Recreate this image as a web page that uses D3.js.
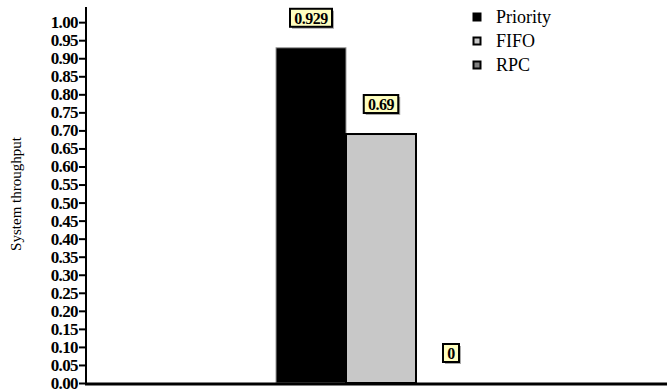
<!DOCTYPE html>
<html><head><meta charset="utf-8">
<script src="https://cdn.jsdelivr.net/npm/d3@7"></script>
<style>body{margin:0;background:#fff}svg{display:block}text{font-family:"Liberation Serif","Times New Roman",serif}</style>
</head><body>
<svg id="c" width="667" height="392"></svg>
<script>
const series = ["Priority", "FIFO", "RPC"];
const values = [0.929, 0.69, 0];
const valueLabels = ["0.929", "0.69", "0"];
const colors = ["#000000", "#c8c8c8", "#808080"];
const tickValues = d3.range(0, 21).map(i => i * 0.05);
const SERIF = '"Liberation Serif","Times New Roman",serif';

const svg = d3.select("#c");
const y = d3.scaleLinear().domain([0, 1.042]).range([383, 7]);
const x = d3.scaleBand().domain(series).range([276, 486]).padding(0);

// bars
svg.selectAll("rect.bar").data(values).enter().append("rect")
  .attr("x", (d, i) => x(series[i]))
  .attr("width", x.bandwidth())
  .attr("y", d => y(d))
  .attr("height", d => y(0) - y(d))
  .attr("fill", (d, i) => colors[i])
  .attr("stroke", (d, i) => i === 0 ? "#999" : "#000")
  .attr("stroke-width", (d, i) => i === 0 ? 1 : 2);

// y axis
const ax = svg.append("g").attr("transform", "translate(86,0)")
  .call(d3.axisLeft(y).tickValues(tickValues).tickFormat(d3.format(".2f")).tickSize(7).tickPadding(1));
ax.attr("font-family", null);
ax.select(".domain").attr("stroke-width", 2).attr("d", `M0,${y(1.042)}V${y(0)}`);
ax.selectAll(".tick line").attr("stroke-width", 2);
ax.selectAll(".tick text").style("font-family", SERIF).style("font-weight", "bold")
  .style("font-size", "17px").attr("fill", "#000").attr("letter-spacing", -0.6);

// x axis line
svg.append("line").attr("x1", 85).attr("x2", 667).attr("y1", 384).attr("y2", 384)
  .attr("stroke", "#000").attr("stroke-width", 3);

// axis title
svg.append("text").attr("transform", "translate(21,194) rotate(-90)")
  .attr("text-anchor", "middle").style("font-family", SERIF)
  .style("font-size", "15px").text("System throughput");

// value labels
const lg = svg.selectAll("g.vl").data(values).enter().append("g")
  .attr("transform", (d, i) => `translate(${x(series[i]) + x.bandwidth() / 2},${y(d) - 30})`);
lg.each(function(d, i) {
  const g = d3.select(this);
  const t = g.append("text").attr("text-anchor", "middle").attr("dy", "0.36em")
    .style("font-family", SERIF).style("font-weight", "bold").style("font-size", "16px")
    .attr("letter-spacing", -0.5).text(valueLabels[i]);
  const bb = t.node().getBBox();
  const w = bb.width + 8, h = 18;
  g.insert("rect", "text").attr("x", -w / 2 + 2).attr("y", -h / 2 + 2).attr("width", w).attr("height", h).attr("fill", "#aaa");
  g.insert("rect", "text").attr("x", -w / 2).attr("y", -h / 2).attr("width", w).attr("height", h)
    .attr("fill", "#ffffc0").attr("stroke", "#000").attr("stroke-width", 2);
});

// legend
const leg = svg.selectAll("g.leg").data(series).enter().append("g")
  .attr("transform", (d, i) => `translate(473,${17 + i * 24})`);
leg.append("rect").attr("x", 0.5).attr("y", -3.5).attr("width", 7).attr("height", 7)
  .attr("fill", (d, i) => colors[i]).attr("stroke", "#000").attr("stroke-width", 2);
leg.append("text").attr("x", 23).attr("dy", "0.35em").style("font-family", SERIF)
  .style("font-size", "18px").text(d => d);
</script>
</body></html>
